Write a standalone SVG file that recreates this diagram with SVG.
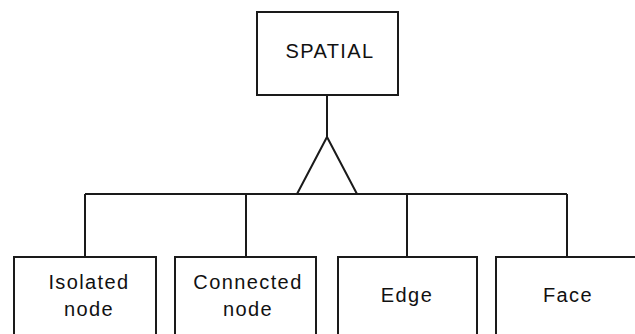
<svg xmlns="http://www.w3.org/2000/svg" width="635" height="334" viewBox="0 0 635 334">
  <style>
    .box { fill: #ffffff; stroke: #1a1a1a; stroke-width: 2; }
    .line { fill: none; stroke: #1a1a1a; stroke-width: 2; }
    .label { font-family: "Liberation Sans", Arial, sans-serif; font-size: 20px; fill: #111111; text-anchor: middle; letter-spacing: 1.4px; }
  </style>
  <rect width="635" height="334" fill="#ffffff"/>

  <!-- generalisation connectors -->
  <g id="connectors">
    <line class="line" x1="327" y1="95" x2="327" y2="137"/>
    <polyline class="line" points="297,194 327,137 357,194"/>
    <line class="line" x1="85" y1="194" x2="567" y2="194"/>
    <line class="line" x1="85" y1="194" x2="85" y2="257"/>
    <line class="line" x1="246" y1="194" x2="246" y2="257"/>
    <line class="line" x1="407" y1="194" x2="407" y2="257"/>
    <line class="line" x1="567" y1="194" x2="567" y2="257"/>
  </g>

  <g id="spatial">
    <rect class="box" x="257" y="12" width="141" height="83"/>
    <text class="label" x="330" y="58" letter-spacing="2px">SPATIAL</text>
  </g>

  <g id="isolated-node">
    <rect class="box" x="14" y="257" width="142" height="90"/>
    <text class="label" x="89" y="289">Isolated</text>
    <text class="label" x="89" y="316">node</text>
  </g>

  <g id="connected-node">
    <rect class="box" x="175" y="257" width="141" height="90"/>
    <text class="label" x="248" y="289">Connected</text>
    <text class="label" x="248" y="316">node</text>
  </g>

  <g id="edge">
    <rect class="box" x="338" y="257" width="139" height="90"/>
    <text class="label" x="407" y="302">Edge</text>
  </g>

  <g id="face">
    <rect class="box" x="496" y="257" width="142" height="90"/>
    <text class="label" x="568" y="302">Face</text>
  </g>
</svg>
